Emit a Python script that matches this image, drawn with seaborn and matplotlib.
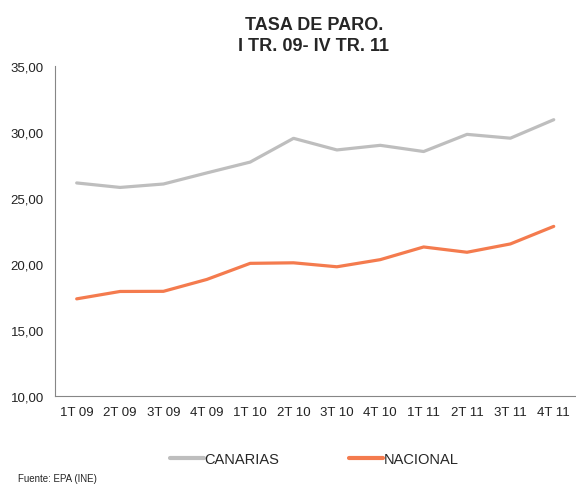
import pandas as pd
import numpy as np
import matplotlib.pyplot as plt
import seaborn as sns

trimestres = ['1T 09', '2T 09', '3T 09', '4T 09', '1T 10', '2T 10',
              '3T 10', '4T 10', '1T 11', '2T 11', '3T 11', '4T 11']
canarias = [26.14, 25.80, 26.06, 26.90, 27.72, 29.52, 28.64, 28.99, 28.52, 29.82, 29.53, 30.93]
nacional = [17.36, 17.92, 17.93, 18.83, 20.05, 20.09, 19.79, 20.33, 21.29, 20.89, 21.52, 22.85]

df = pd.DataFrame({'idx': list(range(len(trimestres))) * 2,
                   'tasa': canarias + nacional,
                   'serie': ['CANARIAS'] * len(trimestres) + ['NACIONAL'] * len(trimestres)})

sns.set_style('white')
plt.rcParams['font.family'] = ['Liberation Sans', 'DejaVu Sans']

fig = plt.figure(figsize=(5.76, 4.85), dpi=100)
ax = fig.add_axes([0.0955, 0.1814, 0.9035, 0.6805])
sns.lineplot(data=df, x='idx', y='tasa', hue='serie', ax=ax,
             palette={'CANARIAS': '#BEBEBE', 'NACIONAL': '#F47B4E'},
             linewidth=2.3, legend=False)

ax.set_xlim(-0.5, len(trimestres) - 0.5)
ax.set_ylim(10, 35)
ax.set_yticks(np.arange(10, 36, 5))
ax.set_yticklabels([f'{v:.2f}'.replace('.', ',') for v in np.arange(10, 36, 5)], fontsize=9.5, color='#222222')
ax.set_xticks(np.arange(-0.5, len(trimestres), 1))
ax.set_xticklabels([])
ax.set_xticks(np.arange(len(trimestres)), minor=True)
ax.set_xticklabels(trimestres, minor=True, fontsize=9.5, color='#222222')
ax.tick_params(axis='x', which='major', direction='in', length=4, color='#868686', width=0.8)
ax.tick_params(axis='x', which='minor', length=0, pad=7)
ax.tick_params(axis='y', direction='out', length=4, color='#868686', width=0.8, pad=4)
ax.set_xlabel('')
ax.set_ylabel('')
for s in ['top', 'right']:
    ax.spines[s].set_visible(False)
for s in ['left', 'bottom']:
    ax.spines[s].set_color('#868686')
    ax.spines[s].set_linewidth(0.8)

fig.text(0.545, 0.925, 'TASA DE PARO.\nI TR. 09- IV TR. 11', ha='center', va='center',
         fontsize=13, fontweight='bold', linespacing=1.3)

handles = [plt.Line2D([], [], color='#BEBEBE', lw=3), plt.Line2D([], [], color='#F47B4E', lw=3)]
fig.legend(handles, ['CANARIAS', 'NACIONAL'], loc='center', bbox_to_anchor=(0.546, 0.052),
           ncol=2, frameon=False, fontsize=10.5, handlelength=2.3, handletextpad=0.05, columnspacing=4.8)
fig.text(0.031, 0.003, 'Fuente: EPA (INE)', fontsize=7, ha='left', va='bottom')

plt.savefig('out.png', dpi=100)
